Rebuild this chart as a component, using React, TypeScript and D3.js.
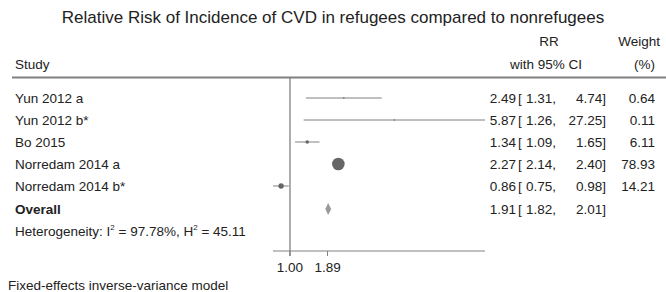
import React from 'react';
import * as d3 from 'd3';

// forest plot data
const studies = ['Yun 2012 a', 'Yun 2012 b*', 'Bo 2015', 'Norredam 2014 a', 'Norredam 2014 b*'];
const rr = [2.49, 5.87, 1.34, 2.27, 0.86];
const lower = [1.31, 1.26, 1.09, 2.14, 0.75];
const upper = [4.74, 27.25, 1.65, 2.40, 0.98];
const weights = [0.64, 0.11, 6.11, 78.93, 14.21];
const overall = [1.91, 1.82, 2.01];
const tickValues = [1.00, 1.89];

const W = 666;
const H = 292;
const font = '"Liberation Sans", Arial, sans-serif';
const ink = '#222';
const grey = '#808080';

const fmt = d3.format('.2f');

/**
 * Forest plot of relative risks.
 */
export default function App() {
  const x = d3.scaleLog()
    .domain([d3.min(lower) as number, d3.max(upper) as number])
    .range([273, 485]);
  const y = d3.scalePoint<string>()
    .domain(studies)
    .range([98, 186]);
  const r = d3.scaleSqrt()
    .domain([0, d3.max(weights) as number])
    .range([0, 6.3]);

  const overallY = 209;
  const hetY = 231;
  const axisY = 251;

  const numCols = (vals: number[], cy: number, w?: number) => (
    <g fontSize={13.5} fill={ink}>
      <text x={516} y={cy + 5} textAnchor="end">{fmt(vals[0])}</text>
      <text x={518} y={cy + 5}>[</text>
      <text x={556} y={cy + 5} textAnchor="end">{fmt(vals[1]) + ','}</text>
      <text x={606} y={cy + 5} textAnchor="end">{fmt(vals[2]) + ']'}</text>
      {w !== undefined && <text x={655} y={cy + 5} textAnchor="end">{fmt(w)}</text>}
    </g>
  );

  const [oEst, oLo, oHi] = overall;

  return (
    <svg width={W} height={H} style={{position: 'absolute', left: 0, top: 0}}
      fontFamily={font}>
      <rect width={W} height={H} fill="#fff"/>
      <text x={333} y={23} textAnchor="middle" fontSize={17} fill={ink}>
        Relative Risk of Incidence of CVD in refugees compared to nonrefugees
      </text>

      {/* headers */}
      <g fontSize={13.5} fill={ink}>
        <text x={549} y={46} textAnchor="middle">RR</text>
        <text x={546} y={69} textAnchor="middle">with 95% CI</text>
        <text x={660} y={46} textAnchor="end">Weight</text>
        <text x={655} y={69} textAnchor="end">(%)</text>
        <text x={15} y={69}>Study</text>
      </g>
      <line x1={12} x2={W} y1={77.5} y2={77.5} stroke={grey} strokeWidth={2}/>

      {/* null line */}
      <line x1={x(1)} x2={x(1)} y1={78} y2={axisY + 5} stroke={grey} strokeWidth={1.3}/>

      {studies.map((s, i) => {
        const cy = y(s) as number;
        return (
          <g key={s}>
            <text x={15} y={cy + 5} fontSize={13.5} fill={ink}>{s}</text>
            <line x1={x(lower[i])} x2={x(upper[i])} y1={cy} y2={cy} stroke={grey} strokeWidth={1}/>
            <circle cx={x(rr[i])} cy={cy} r={Math.max(r(weights[i]), 0.8)} fill="#666"/>
            {numCols([rr[i], lower[i], upper[i]], cy, weights[i])}
          </g>
        );
      })}

      {/* overall */}
      <text x={15} y={overallY + 5} fontSize={13.5} fontWeight="bold" fill={ink}>Overall</text>
      <path
        d={`M${x(oLo)},${overallY} L${x(oEst)},${overallY - 6} L${x(oHi)},${overallY} L${x(oEst)},${overallY + 6} Z`}
        fill="#999"/>
      {numCols(overall, overallY)}

      <text x={15} y={hetY + 5} fontSize={13.5} fill={ink}>
        Heterogeneity: I<tspan dy={-6} fontSize={8}>2</tspan>
        <tspan dy={6}> = 97.78%, H</tspan><tspan dy={-6} fontSize={8}>2</tspan>
        <tspan dy={6}> = 45.11</tspan>
      </text>

      {/* axis */}
      <line x1={x.range()[0]} x2={x.range()[1]} y1={axisY} y2={axisY} stroke={grey} strokeWidth={1}/>
      {tickValues.map((t) => (
        <g key={t}>
          <line x1={x(t)} x2={x(t)} y1={axisY} y2={axisY + 5} stroke={grey}/>
          <text x={x(t)} y={axisY + 21} textAnchor="middle" fontSize={13.5} fill={ink}>{fmt(t)}</text>
        </g>
      ))}

      <text x={8} y={290} fontSize={13.5} fill={ink}>Fixed-effects inverse-variance model</text>
    </svg>
  );
}
